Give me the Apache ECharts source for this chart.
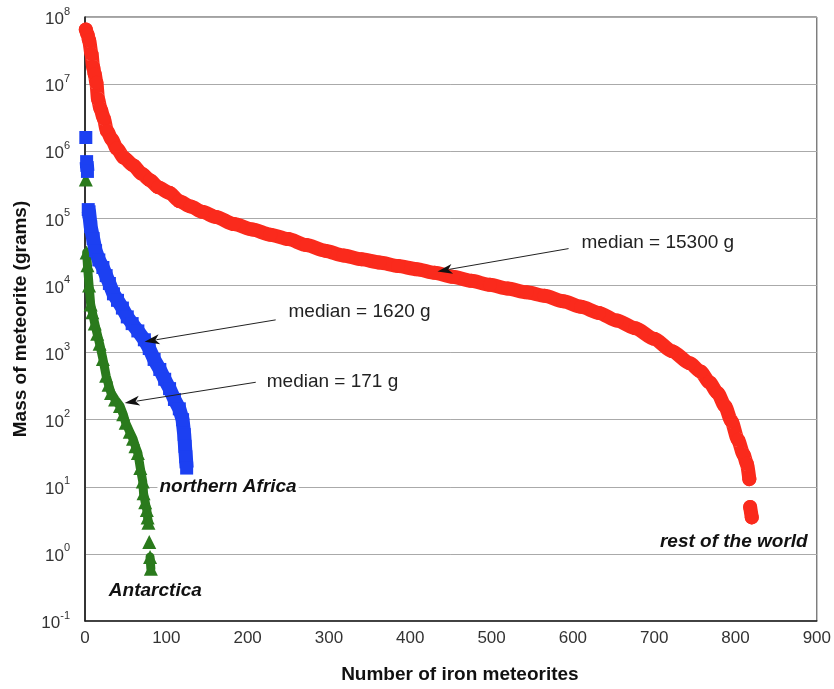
<!DOCTYPE html>
<html><head><meta charset="utf-8">
<script src="https://cdn.jsdelivr.net/npm/echarts@6/dist/echarts.min.js"></script>
<style>html,body{margin:0;padding:0;background:#fff}#c{width:834px;height:689px}</style>
</head><body><div id="c"></div>
<script>
// ---- data ----
const redX = [1,3,5,8,10,12,14,16,19,23,27,33,39,48,59,70,80,90,104,116,130,144,161,183,206,228,250,272,295,318,340,362,385,408,430,452,475,498,520,543,565,588,610,632,654,677,700,722,744,757,768,778,787,795,803,810,814,817,817.5,818,820];
const redY = [6.5e7,5.5e7,4.5e7,2.8e7,1.8e7,1.4e7,1.05e7,6.0e6,4.3e6,3.1e6,2.0e6,1.5e6,1.1e6,8.0e5,6.2e5,4.6e5,3.7e5,2.9e5,2.4e5,1.8e5,1.5e5,1.25e5,1.05e5,8.2e4,6.8e4,5.7e4,4.9e4,4.0e4,3.3e4,2.8e4,2.45e4,2.2e4,1.95e4,1.75e4,1.55e4,1.35e4,1.17e4,1.02e4,9.0e3,7.9e3,7.0e3,5.8e3,4.8e3,3.9e3,3.0e3,2.3e3,1.6e3,1.05e3,6.9e2,5.2e2,3.6e2,2.5e2,1.6e2,9.5e1,5.0e1,3.0e1,2.2e1,1.3e1,null,5.0,3.5];

const blueX = [1,1.5,2,3,3.5,4,5,7,10,13,17,22,26,30,35,40,46,52,58,65,73,79,85,92,98,104,110,116,120,122,123,124,125];
const blueY = [1.6e6,null,7e5,5e5,null,1.35e5,1.25e5,7.5e4,5e4,3.3e4,2.4e4,1.85e4,1.4e4,1.07e4,7.5e3,6.0e3,4.6e3,3.4e3,2.7e3,2.1e3,1.55e3,1.15e3,7.9e2,5.6e2,4.0e2,2.9e2,2.0e2,1.45e2,1.0e2,6.0e1,4.0e1,2.8e1,1.9e1];

const greenX = [1,1.5,2,3,5,7,9,12,15,18,22,26,29,32,37,43,47,50,55,59,62,65,68,71,72,74,76,77,78,78.5,79,79.5,80,81];
const greenY = [3.8e5,null,3.1e4,2.0e4,1.0e4,5.2e3,4.0e3,2.7e3,1.9e3,1.35e3,8.0e2,4.5e2,3.3e2,2.5e2,2.0e2,1.6e2,1.2e2,9.0e1,6.6e1,5.2e1,4.0e1,3.2e1,1.9e1,1.2e1,8.0,5.9,4.5,3.5,2.9,null,1.5,null,0.9,0.6];

const xTicks = [0,100,200,300,400,500,600,700,800,900];

// annotation anchors in data space
const notes = [
  {text:'median = 15300 g', at:[610.6, 43400], style:'median'},
  {text:'median = 1620 g', at:[250.3, 4030], style:'median'},
  {text:'median = 171 g', at:[223.5, 373], style:'median'},
  {text:'northern Africa', at:[89.1, 9.86], style:'name'},
  {text:'Antarctica', at:[26.9, 0.279], style:'name'},
  {text:'rest of the world', at:[704.6, 1.52], style:'name'}
];
const arrows = [
  {from:[594.7, 35400], to:[433.5, 16200]},
  {from:[234.5, 3070], to:[73.3, 1452]},
  {from:[210, 361], to:[48.8, 177]}
];

function pts(xs, ys){ return xs.map((x,i)=>[x, ys[i]===null ? '-' : ys[i]]); }

const chart = echarts.init(document.getElementById('c'));
const FONT = '"Liberation Sans", Arial, Helvetica, sans-serif';

chart.setOption({
  animation:false,
  backgroundColor:'#fff',
  grid:{left:85, right:12, top:17, bottom:62, show:true, borderColor:'#444', borderWidth:1},
  xAxis:{
    type:'value', min:xTicks[0], max:xTicks[xTicks.length-1], interval:100,
    name:'Number of iron meteorites', nameLocation:'middle', nameGap:44,
    nameTextStyle:{fontFamily:FONT, fontWeight:'bold', fontSize:19, color:'#111', padding:[0,0,0,18]},
    axisLine:{show:true, lineStyle:{color:'#222', width:1.5}},
    axisTick:{show:false}, splitLine:{show:false},
    axisLabel:{fontFamily:FONT, fontSize:17, color:'#333', margin:9}
  },
  yAxis:{
    type:'log', logBase:10, min:0.1, max:1e8, interval:1,
    name:'Mass of meteorite (grams)', nameLocation:'middle', nameGap:53, nameRotate:90,
    nameTextStyle:{fontFamily:FONT, fontWeight:'bold', fontSize:19, color:'#111'},
    axisLine:{show:true, lineStyle:{color:'#111', width:1.5}},
    axisTick:{show:false},
    splitLine:{show:true, lineStyle:{color:'#aaa', width:1}},
    axisLabel:{
      margin:15,
      formatter:v => '{b|10}{s|' + Math.round(Math.log10(v)) + '}',
      rich:{
        b:{fontFamily:FONT, fontSize:17, color:'#333', lineHeight:22, verticalAlign:'bottom'},
        s:{fontFamily:FONT, fontSize:11, color:'#333', lineHeight:22, verticalAlign:'top'}
      }
    }
  },
  series:[
    {type:'line', name:'Antarctica', data:pts(greenX, greenY), z:3,
      symbol:'triangle', symbolSize:14, showSymbol:true, connectNulls:false,
      itemStyle:{color:'#2a7a1c'}, lineStyle:{color:'#2a7a1c', width:9, cap:'round', join:'round'}},
    {type:'line', name:'northern Africa', data:pts(blueX, blueY), z:4,
      symbol:'rect', symbolSize:13, showSymbol:true, connectNulls:false,
      itemStyle:{color:'#1c40f2'}, lineStyle:{color:'#1c40f2', width:14, cap:'butt', join:'round'}},
    {type:'line', name:'rest of the world', data:pts(redX, redY), z:5,
      symbol:'circle', symbolSize:14, showSymbol:true, connectNulls:false,
      smooth:0.25, smoothMonotone:'x',
      itemStyle:{color:'#fa2a1c'}, lineStyle:{color:'#fa2a1c', width:14, cap:'round', join:'round'}}
  ]
});

function drawNotes(){
  const g = [];
  arrows.forEach(a=>{
    const p1 = chart.convertToPixel({gridIndex:0}, a.from);
    const p2 = chart.convertToPixel({gridIndex:0}, a.to);
    const dx = p2[0]-p1[0], dy = p2[1]-p1[1], L = Math.hypot(dx,dy);
    const ux = dx/L, uy = dy/L, len = 15, hw = 5;
    const bx = p2[0]-ux*len, by = p2[1]-uy*len;
    g.push({type:'line', z:100, shape:{x1:p1[0], y1:p1[1], x2:bx+ux*3, y2:by+uy*3}, style:{stroke:'#222', lineWidth:1}});
    g.push({type:'polygon', z:100, shape:{points:[[p2[0],p2[1]],[bx-uy*hw, by+ux*hw],[bx+ux*4, by+uy*4],[bx+uy*hw, by-ux*hw]]}, style:{fill:'#111'}});
  });
  notes.forEach(n=>{
    const p = chart.convertToPixel({gridIndex:0}, n.at);
    const isName = n.style==='name';
    g.push({type:'text', z:100, x:p[0], y:p[1], style:{
      text:n.text, fontFamily:FONT, fontSize:19,
      fontWeight: isName ? 'bold' : 'normal', fontStyle: isName ? 'italic' : 'normal',
      fill: isName ? '#111' : '#222', align:'left', verticalAlign:'middle',
      backgroundColor: isName ? '#fff' : 'transparent', padding: isName ? [0,2] : 0
    }});
  });
  chart.setOption({graphic:g});
}
drawNotes();
</script>
</body></html>
